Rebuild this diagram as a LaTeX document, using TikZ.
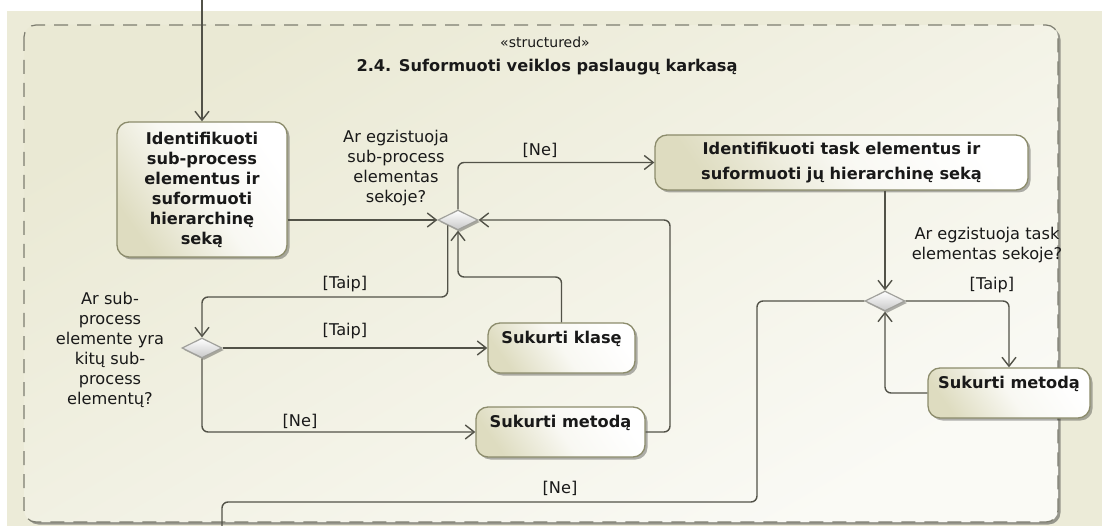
\documentclass[tikz,border=0pt]{standalone}
\usepackage{fontspec}
\setmainfont{DejaVu Sans}
\usetikzlibrary{arrows.meta,shapes.geometric,shadows}

\definecolor{bgbeige}{RGB}{236,235,216}
\definecolor{frameA}{RGB}{234,233,212}
\definecolor{frameB}{RGB}{250,250,245}
\definecolor{frameline}{RGB}{125,125,112}
\definecolor{frameshadow}{RGB}{150,150,140}
\definecolor{flowline}{RGB}{82,82,72}
\definecolor{nodeline}{RGB}{140,140,108}
\definecolor{nodeshade}{RGB}{222,220,192}
\definecolor{decfill}{RGB}{200,200,200}
\definecolor{decline}{RGB}{160,160,155}
\definecolor{txt}{RGB}{25,25,25}

\tikzset{
  action/.style={rectangle, rounded corners=12pt, draw=nodeline, line width=1.3pt,
    top color=white, bottom color=nodeshade, middle color=white!80!nodeshade, shading angle=-55,
    drop shadow={shadow xshift=2.5pt, shadow yshift=-2.5pt, opacity=0.3, fill=black},
    font=\bfseries\fontsize{16.2}{20}\selectfont, text=txt, align=center, inner sep=0pt},
  decision/.style={diamond, aspect=2, minimum width=40pt, minimum height=20pt, inner sep=0pt,
    draw=decline, line width=1.2pt, top color=white, bottom color=decfill,
    drop shadow={shadow xshift=2pt, shadow yshift=-2pt, opacity=0.3, fill=black}},
  flow/.style={draw=flowline, line width=1.4pt, rounded corners=6pt},
  arr/.style={flow, -{Straight Barb[length=9pt,width=14pt]}},
  note/.style={font=\fontsize{16.2}{20}\selectfont, text=txt, align=center, inner sep=0pt},
  guard/.style={font=\fontsize{16.2}{20}\selectfont, text=txt, inner sep=0pt}
}

\begin{document}
\begin{tikzpicture}[x=1pt,y=-1pt]
\useasboundingbox (0,0) rectangle (1102,526);
\fill[white] (0,0) rectangle (1102,526);
\fill[bgbeige] (7,11) rectangle (1102,526);

% structured activity region
\fill[rounded corners=12pt, frameshadow] (26.5,27.5) rectangle (1060.5,524.5);
\shade[rounded corners=12pt, top color=frameA, bottom color=frameB, shading angle=30]
  (24,25) rectangle (1058,522);
\draw[rounded corners=12pt, frameline, line width=1.2pt, dash pattern=on 14pt off 9pt]
  (24,25) rectangle (1058,522);

\node[font=\fontsize{14}{16}\selectfont, text=txt] (stereo) at (545,42) {«structured»};
\node[font=\bfseries\fontsize{16.2}{20}\selectfont, text=txt] (title) at (547,67)
  {2.4. Suformuoti veiklos paslaugų karkasą};

% actions
\node[action, minimum width=170pt, minimum height=135pt] (subproc) at (202,189.5)
  {Identifikuoti\\sub-process\\elementus ir\\suformuoti\\hierarchinę\\seką};
\node[action, minimum width=373pt, minimum height=55pt,
      font=\bfseries\fontsize{16.2}{25}\selectfont] (task) at (841.5,162.5)
  {Identifikuoti task elementus ir\\suformuoti jų hierarchinę seką};
\node[action, minimum width=147pt, text height=20pt, text depth=30pt] (klase) at (561.5,348)
  {Sukurti klasę};
\node[action, minimum width=169pt, text height=20pt, text depth=30pt] (metodas) at (560.5,432)
  {Sukurti metodą};
\node[action, minimum width=162pt, text height=20pt, text depth=30pt] (metodas2) at (1009,393)
  {Sukurti metodą};

% decisions
\node[decision] (dsub) at (458,220) {};
\node[decision] (dtask) at (885,301) {};
\node[decision] (dnest) at (202,348) {};

% decision questions
\node[note] (qsub) at (396,168) {Ar egzistuoja\\sub-process\\elementas\\sekoje?};
\node[note] (qnest) at (110,350) {Ar sub-\\process\\elemente yra\\kitų sub-\\process\\elementų?};
\node[note] (qtask) at (987,245) {Ar egzistuoja task\\elementas sekoje?};

% routing coordinates
\coordinate (entry) at (202,0);
\coordinate (taipy) at (0,297);
\coordinate (klasey) at (0,277);
\coordinate (loopx) at (670,0);
\coordinate (ne1) at (757,502);
\coordinate (ne2) at (222,502);
\coordinate (exit) at (222,527);

% flows
\draw[arr] (entry) -- (subproc.north);
\draw[arr] (dsub.west -| subproc.east) -- (dsub.west);
\draw[arr] (dsub.north) |- (task.west);
\draw[arr] (dsub.south west) -- (dsub.south west |- taipy) -| (dnest.north);
\draw[arr] (dnest.east) -- (klase.west);
\draw[arr] (dnest.south) |- (metodas.west);
\draw[arr] (klase.north) -- (klase.north |- klasey) -| (dsub.south);
\draw[arr] (metodas.east) -| (loopx |- dsub.east) -- (dsub.east);
\draw[arr] (task.south -| dtask.north) -- (dtask.north);
\draw[arr] (dtask.east) -| (metodas2.north);
\draw[arr] (metodas2.west) -| (dtask.south);
\draw[flow] (dtask.west) -| (ne1) -- (ne2) -- (exit);

% guards
\node[guard] (g1) at (540,150) {[Ne]};
\node[guard] (g2) at (345,284) {[Taip]};
\node[guard] (g3) at (345,331) {[Taip]};
\node[guard] (g4) at (300,421) {[Ne]};
\node[guard] (g5) at (992,285) {[Taip]};
\node[guard] (g6) at (560,488) {[Ne]};
\end{tikzpicture}
\end{document}
